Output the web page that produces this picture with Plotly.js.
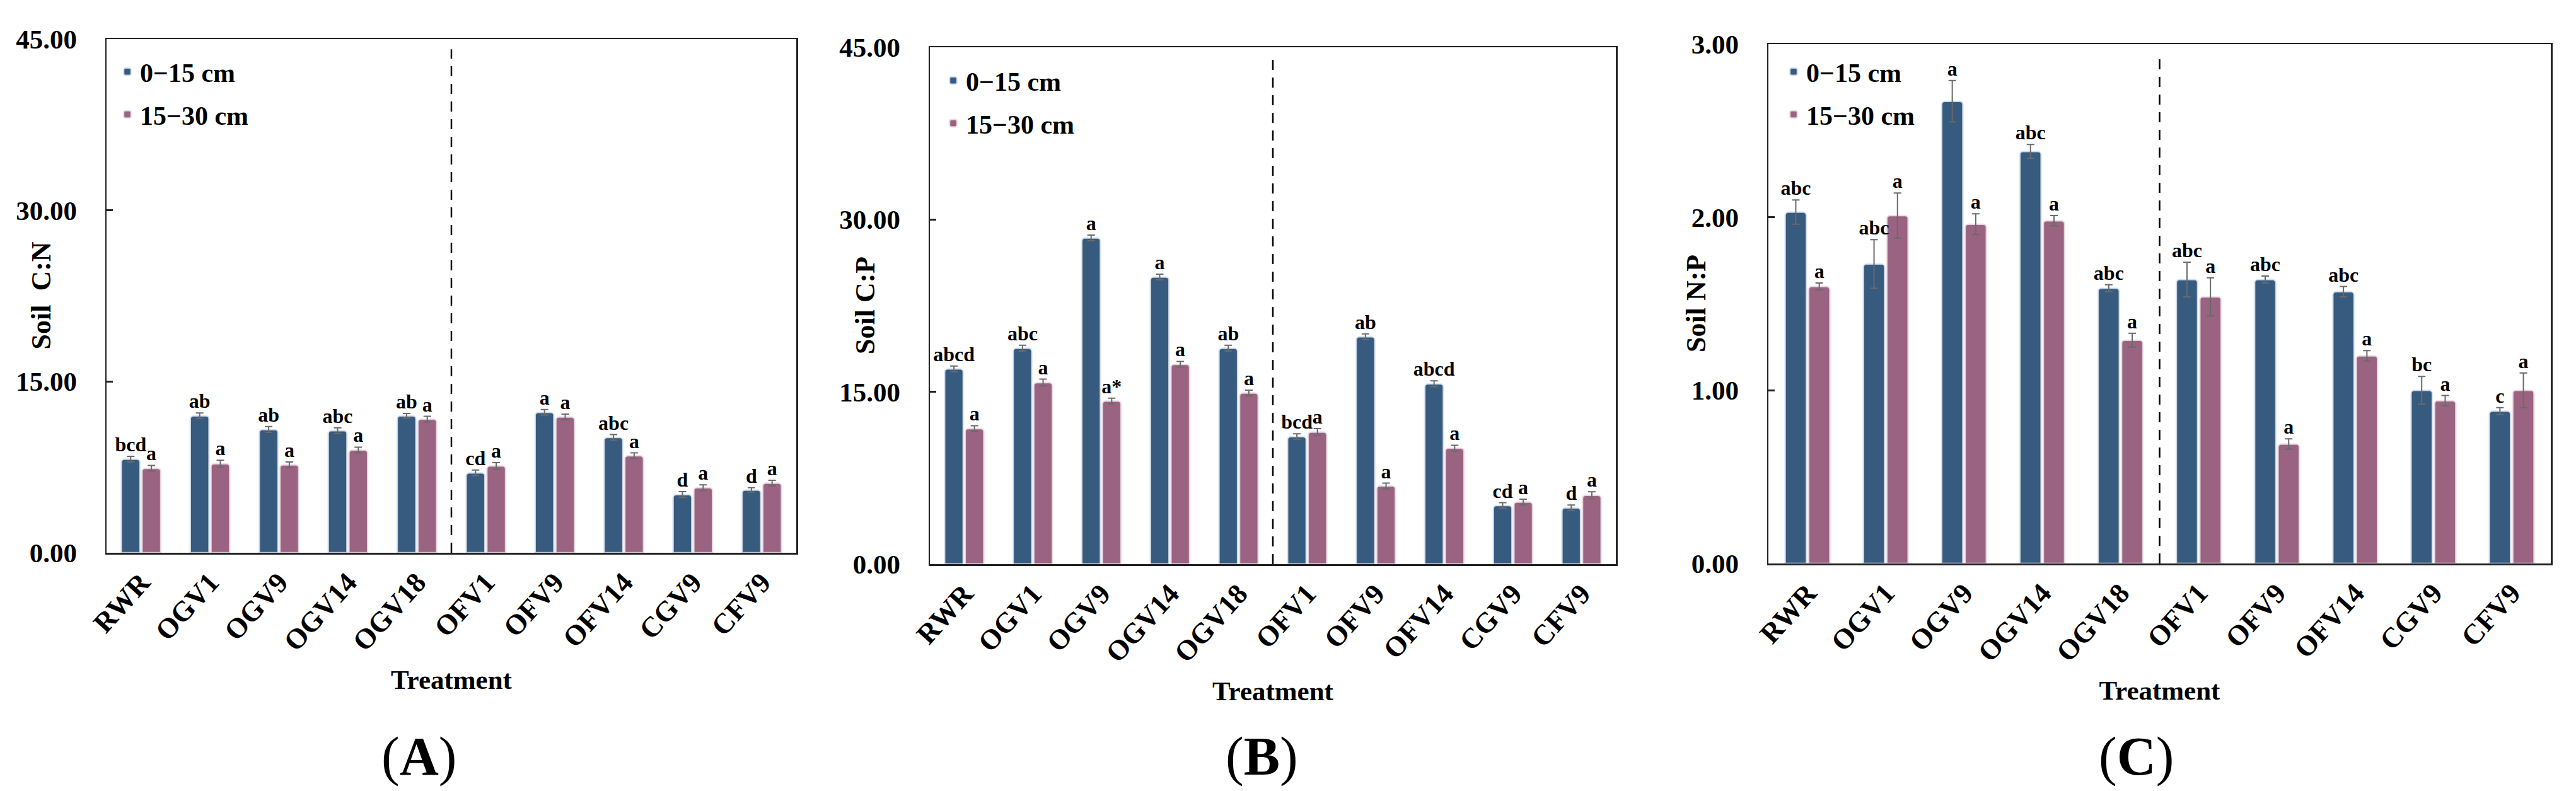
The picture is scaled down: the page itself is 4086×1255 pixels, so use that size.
<!DOCTYPE html>
<html>
<head>
<meta charset="utf-8">
<script src="https://cdn.plot.ly/plotly-3.0.1.min.js"></script>
<style>html,body{margin:0;padding:0;background:#fff;overflow:hidden}</style>
</head>
<body>
<div id="chart" style="width:4086px;height:1255px"></div>
<script>
// ---------- data ----------
const categories = ['RWR','OGV1','OGV9','OGV14','OGV18','OFV1','OFV9','OFV14','CGV9','CFV9'];
const seriesNames = ['0\u221215 cm','15\u221230 cm'];

// (A) Soil C:N
const cnTop    = [8.2, 12.0, 10.8, 10.7, 12.0, 7.0, 12.3, 10.1, 5.1, 5.5];
const cnSub    = [7.4, 7.8, 7.7, 9.0, 11.7, 7.6, 11.9, 8.5, 5.7, 6.1];
const cnTopErr = [0.25, 0.25, 0.25, 0.25, 0.2, 0.25, 0.25, 0.25, 0.25, 0.2];
const cnSubErr = [0.25, 0.3, 0.25, 0.25, 0.25, 0.3, 0.25, 0.25, 0.25, 0.25];
const cnTopLbl = ['bcd','ab','ab','abc','ab','cd','a','abc','d','d'];
const cnSubLbl = ['a','a','a','a','a','a','a','a','a','a'];

// (B) Soil C:P
const cpTop    = [17.0, 18.8, 28.4, 25.0, 18.8, 11.1, 19.8, 15.7, 5.1, 4.9];
const cpSub    = [11.8, 15.8, 14.2, 17.4, 14.9, 11.5, 6.8, 10.1, 5.4, 6.0];
const cpTopErr = [0.25, 0.25, 0.25, 0.25, 0.25, 0.25, 0.25, 0.25, 0.25, 0.25];
const cpSubErr = [0.25, 0.3, 0.25, 0.25, 0.25, 0.3, 0.25, 0.25, 0.25, 0.3];
const cpTopLbl = ['abcd','abc','a','a','ab','bcd','ab','abcd','cd','d'];
const cpSubLbl = ['a','a','a*','a','a','a','a','a','a','a'];

// (C) Soil N:P
const npTop    = [2.03, 1.73, 2.67, 2.38, 1.59, 1.64, 1.64, 1.57, 1.00, 0.88];
const npSub    = [1.60, 2.01, 1.96, 1.98, 1.29, 1.54, 0.69, 1.20, 0.94, 1.00];
const npTopErr = [0.07, 0.14, 0.12, 0.04, 0.02, 0.10, 0.02, 0.03, 0.08, 0.02];
const npSubErr = [0.02, 0.13, 0.06, 0.03, 0.04, 0.11, 0.03, 0.03, 0.03, 0.10];
const npTopLbl = ['abc','abc','a','abc','abc','abc','abc','abc','bc','c'];
const npSubLbl = ['a','a','a','a','a','a','a','a','a','a'];

const yTitles = ['Soil\u00a0 C:N','Soil C:P','Soil N:P'];
const panelTags = ['A','B','C'];

// ---------- style ----------
const W = 4086, H = 1255;
const FONT = 'Liberation Serif, Times New Roman, serif';
const BLUE = '#375a7f';
const PINK = '#9a6381';
const panels = [
  {top: cnTop, sub: cnSub, topErr: cnTopErr, subErr: cnSubErr, topLbl: cnTopLbl, subLbl: cnSubLbl,
   px: [169, 1263], py: [62, 877], range: [0, 45], dtick: 15, legX: 182, legY: 80, tagX: 664, titleX: 65},
  {top: cpTop, sub: cpSub, topErr: cpTopErr, subErr: cpSubErr, topLbl: cpTopLbl, subLbl: cpSubLbl,
   px: [1475, 2563], py: [75, 895], range: [0, 45], dtick: 15, legX: 1492, legY: 94, tagX: 2001, titleX: 1372},
  {top: npTop, sub: npSub, topErr: npTopErr, subErr: npSubErr, topLbl: npTopLbl, subLbl: npSubLbl,
   px: [2805, 4046], py: [70, 894], range: [0, 3], dtick: 1, legX: 2825, legY: 80, tagX: 3388, titleX: 2690}
];

const traces = [];
const layout = {
  width: W, height: H, autosize: false,
  margin: {l: 0, r: 0, t: 0, b: 0},
  paper_bgcolor: '#fff', plot_bgcolor: '#fff',
  barmode: 'group', bargap: 0.4, bargroupgap: 0.09,
  scattermode: 'group', scattergap: 0.4,
  font: {family: FONT, color: '#000'},
  shapes: [], annotations: []
};

panels.forEach((p, i) => {
  const n = i === 0 ? '' : String(i + 1);
  const xa = 'x' + n, ya = 'y' + n;
  const legName = i === 0 ? 'legend' : 'legend' + (i + 1);
  const vals = [p.top, p.sub], errs = [p.topErr, p.subErr], lbls = [p.topLbl, p.subLbl];
  const cols = [BLUE, PINK];
  const lineCols = ['rgba(225,232,242,0.85)', 'rgba(240,225,234,0.85)'];
  for (let s = 0; s < 2; s++) {
    traces.push({
      type: 'bar', name: seriesNames[s], x: categories, y: vals[s],
      xaxis: xa, yaxis: ya, offsetgroup: 'g' + s, legend: legName, legendgroup: 'p' + i + 's' + s,
      marker: {color: cols[s], line: {color: lineCols[s], width: 2.5}, cornerradius: 5},
      error_y: {type: 'data', array: errs[s], visible: true, color: '#6a6a6a', thickness: 2, width: 6},
      hoverinfo: 'x+y'
    });
  }
  for (let s = 0; s < 2; s++) {
    traces.push({
      type: 'scatter', mode: 'text', x: categories,
      y: vals[s].map((v, k) => v + errs[s][k]),
      text: lbls[s], textposition: 'top center',
      textfont: {family: FONT, size: 32, color: '#000', weight: 'bold'},
      xaxis: xa, yaxis: ya, offsetgroup: 'g' + s, showlegend: false, cliponaxis: false,
      hoverinfo: 'skip'
    });
  }
  const xDom = [p.px[0] / W, p.px[1] / W];
  layout['xaxis' + n] = {
    domain: xDom, anchor: ya, type: 'category',
    showline: true, mirror: true, linewidth: 2.5, linecolor: '#222',
    ticks: '', showgrid: false, zeroline: false, tickangle: -48,
    tickfont: {family: FONT, size: 45, color: '#000', weight: 'bold'},
    title: {text: 'Treatment', standoff: 22, font: {family: FONT, size: 43, color: '#000', weight: 'bold'}}
  };
  layout['yaxis' + n] = {
    domain: [1 - p.py[1] / H, 1 - p.py[0] / H], anchor: xa,
    range: p.range, dtick: p.dtick, tick0: 0, tickformat: '.2f',
    ticks: 'inside', ticklen: 10, tickwidth: 2.5, tickcolor: '#222',
    showline: true, mirror: true, linewidth: 2.5, linecolor: '#222',
    showgrid: false, zeroline: false, ticklabelstandoff: 36,
    tickfont: {family: FONT, size: 43, color: '#000', weight: 'bold'}
  };
  layout[legName] = {
    x: p.legX / W, y: 1 - p.legY / H, xanchor: 'left', yanchor: 'top',
    bgcolor: 'rgba(0,0,0,0)', borderwidth: 0,
    traceorder: 'grouped', tracegroupgap: 10, itemwidth: 30,
    font: {family: FONT, size: 42, color: '#000', weight: 'bold'}
  };
  layout.shapes.push({
    type: 'line', xref: xa, yref: ya + ' domain', x0: 4.5, x1: 4.5, y0: 0, y1: 0.98,
    line: {color: '#000', width: 2.5, dash: '16px,12px'}
  });
  // y-axis title (placed like the original, between the tick labels)
  layout.annotations.push({
    xref: 'paper', yref: ya + ' domain', x: p.titleX / W, y: 0.5,
    xanchor: 'center', yanchor: 'middle', showarrow: false, textangle: -90,
    text: '<b>' + yTitles[i] + '</b>',
    font: {family: FONT, size: 44, color: '#000'}
  });
  layout.annotations.push({
    xref: 'paper', yref: 'paper', x: p.tagX / W, y: 1 - 1200 / H,
    xanchor: 'center', yanchor: 'middle', showarrow: false,
    text: '(<b>' + panelTags[i] + '</b>)',
    font: {family: FONT, size: 86, color: '#000'}
  });
});

Plotly.newPlot('chart', traces, layout, {displayModeBar: false, staticPlot: true});
</script>
</body>
</html>
